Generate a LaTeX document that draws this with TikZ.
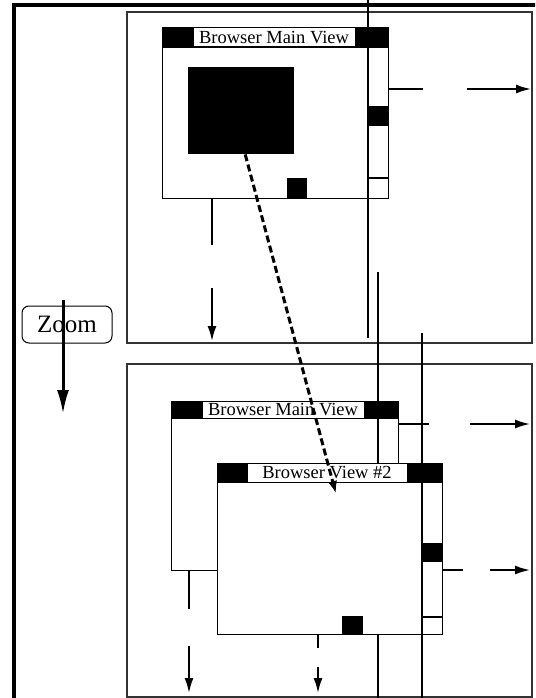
\documentclass[tikz,border=0pt]{standalone}
\usepackage{fontspec}
\setmainfont{Liberation Serif}
\usetikzlibrary{arrows.meta,positioning,calc}
\tikzset{
    frame/.style={draw,line width=3.2pt},
    panel/.style={draw=black!80,line width=1.5pt},
    win/.style={draw,line width=1.3pt,fill=white,anchor=north west,inner sep=0pt},
    bar/.style={fill=black,anchor=north west,inner sep=0pt},
    title/.style={draw,fill=white,line width=1pt,inner sep=0pt,
        font=\fontsize{18.5}{18}\selectfont},
    blk/.style={fill=black,anchor=north west,inner sep=0pt},
    rule/.style={line width=1.3pt},
    seg/.style={line width=1.8pt},
    arr/.style={-{Latex[length=15pt,width=9pt]},line width=1.8pt},
    dashlink/.style={-{Latex[length=13pt,width=9pt]},line width=3pt,
        dash pattern=on 7pt off 3.5pt},
    zoombox/.style={draw,rounded corners=7pt,line width=1pt,inner sep=0pt,
        minimum width=90pt,minimum height=37pt,font=\fontsize{25}{25}\selectfont},
    zoomarr/.style={-{Latex[length=24pt,width=12pt]},line width=3pt}
}
\begin{document}
\begin{tikzpicture}[x=1pt,y=-1pt]
  \useasboundingbox (0,0) rectangle (535,698);
  \clip (0,0) rectangle (535,698);
  % outer frame and the two panels
  \draw[frame] (14,710) -- (14,5) -- (550,5);
  \draw[panel] (127,12) rectangle (532,343);
  \draw[panel] (127,364) rectangle (532,697);
  % zoom step
  \node[zoombox] (zoom) at (67,324.5) {Zoom};
  \coordinate (zTop) at (63,300);
  \coordinate (zEnd) at (63,414);
  \draw[zoomarr] (zTop) -- (zEnd);

  % upper panel: main view
  \node[win,minimum width=226pt,minimum height=171pt] (mainA) at (162,27) {};
  \node[bar,minimum width=226pt,minimum height=21pt] (barA) at (mainA.north west) {};
  \node[title,minimum width=162pt,minimum height=19pt] (titleA) at (274,37.5) {Browser Main View};
  \node[blk,minimum width=106pt,minimum height=87pt] (imgA) at (188,67) {};
  \node[blk,minimum width=20pt,minimum height=20pt] (dotA) at (287,178) {};
  \coordinate (scrA) at (368,0);
  \coordinate (scrAend) at (368,338);
  \draw[rule] (scrA) -- (scrAend);
  \node[blk,minimum width=20pt,minimum height=20pt] (thumbA) at (368,106) {};
  \draw[rule] (scrA |- dotA.north) -- (mainA.east |- dotA.north);
  % upper panel: scroll arrows
  \coordinate (rA1) at (423,89);
  \coordinate (rA2) at (467,89);
  \coordinate (rA3) at (531,89);
  \draw[rule] (mainA.east |- rA1) -- (rA1);
  \draw[arr] (rA2) -- (rA3);
  \coordinate (dA1) at (212,245);
  \coordinate (dA2) at (212,288);
  \coordinate (dA3) at (212,341);
  \draw[seg] (mainA.south -| dA1) -- (dA1);
  \draw[arr] (dA2) -- (dA3);

  % lower panel: main view behind
  \node[win,minimum width=227pt,minimum height=169pt] (mainB) at (171,401) {};
  \node[bar,minimum width=227pt,minimum height=18pt] (barB) at (mainB.north west) {};
  \node[title,minimum width=162pt,minimum height=17pt] (titleB) at (283,410) {Browser Main View};
  \coordinate (vA) at (378,272);
  \coordinate (vAend) at (378,698);
  \draw[rule] (vA) -- (vAend);
  % lower panel: second view in front
  \node[win,minimum width=225pt,minimum height=171pt] (viewB) at (217,463) {};
  \node[bar,minimum width=225pt,minimum height=20pt] (barC) at (viewB.north west) {};
  \node[title,minimum width=160pt,minimum height=19pt] (titleC) at (327,473) {Browser View \#2};
  \node[blk,minimum width=21pt,minimum height=18pt] (dotB) at (342,616) {};
  \draw[rule] (vA |- viewB.south) -- (vAend);
  \coordinate (scrB) at (422,333);
  \coordinate (scrBend) at (422,698);
  \draw[rule] (scrB) -- (scrBend);
  \node[blk,minimum width=20pt,minimum height=19pt] (thumbB) at (422,543) {};
  \draw[rule] (scrB |- 0,617) -- (viewB.east |- 0,617);
  % lower panel: scroll arrows
  \coordinate (rB1) at (429,424);
  \coordinate (rB2) at (470,424);
  \coordinate (rB3) at (530,424);
  \draw[seg] (mainB.east |- rB1) -- (rB1);
  \draw[arr] (rB2) -- (rB3);
  \coordinate (rC1) at (463,570);
  \coordinate (rC2) at (490,570);
  \coordinate (rC3) at (530,570);
  \draw[seg] (viewB.east |- rC1) -- (rC1);
  \draw[arr] (rC2) -- (rC3);
  \coordinate (dB1) at (189,609);
  \coordinate (dB2) at (189,646);
  \coordinate (dB3) at (189,693);
  \draw[rule] (mainB.south -| dB1) -- (dB1);
  \draw[arr] (dB2) -- (dB3);
  \coordinate (dC1) at (318,648);
  \coordinate (dC2) at (318,667);
  \coordinate (dC3) at (318,693);
  \draw[rule] (viewB.south -| dC1) -- (dC1);
  \draw[arr] (dC2) -- (dC3);

  % zoomed region goes to the new view
  \coordinate (zoomEnd) at (336,494);
  \draw[dashlink] ($(imgA.south)+(4,0)$) -- (zoomEnd);
\end{tikzpicture}
\end{document}
